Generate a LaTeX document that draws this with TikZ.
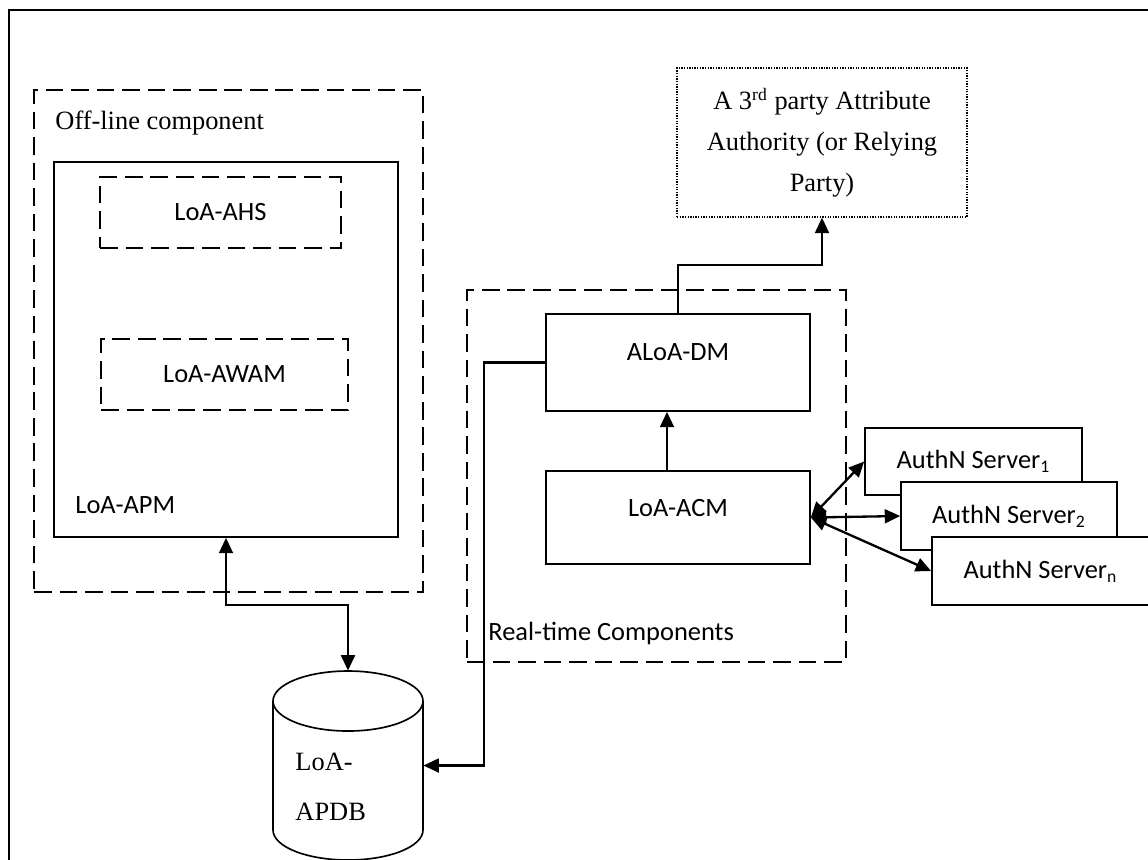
\documentclass[tikz,border=0pt]{standalone}
\usepackage{fontspec}
\setmainfont{Liberation Serif}
\newfontfamily\calibri{Carlito}
\usepackage{tikz}
\usetikzlibrary{arrows.meta,calc}
\newlength{\pxu}
\setlength{\pxu}{0.4545pt}

\begin{document}
\begin{tikzpicture}[x=0.4545pt, y=-0.4545pt,
	sz/.style 2 args={minimum width=#1\pxu, minimum height=#2\pxu, inner sep=0pt},
	sbox/.style={draw, line width=0.75pt, fill=white, font=\calibri\fontsize{12}{14}\selectfont},
	dbox/.style={draw, line width=0.85pt, dash pattern=on 8pt off 3.6pt},
	dotbox/.style={draw, line width=0.6pt, dash pattern=on 0.6pt off 0.6pt},
	cyl/.style={draw, line width=0.75pt, fill=white},
	cal/.style={font=\calibri\fontsize{12}{14}\selectfont, inner sep=0pt},
	tms/.style={font=\fontsize{12}{14}\selectfont, inner sep=0pt},
	conn/.style={line width=1.05pt, >={Triangle[length=7pt,width=6.3pt]}}]
	\useasboundingbox (0,0) rectangle (1148,859);
	\clip (0,0) rectangle (1148,859);
	
	% frame
	\draw[line width=1.3pt] (9,880) -- (9,10) -- (1170,10);
	
	% off-line part
	\node[dbox, sz={389}{502}] (offline) at (228.5,341) {};
	\node[tms, anchor=west] (offlinelbl) at (55,123) {Off-line component};
	\node[sbox, sz={344}{375}] (apm) at (226,349.5) {};
	\node[cal, anchor=west] (apmlbl) at (75,505) {LoA-APM};
	\node[dbox, sz={241}{71}, font=\calibri\fontsize{12}{14}\selectfont] (ahs) at (220.5,212.5) {LoA-AHS};
	\node[dbox, sz={247}{71}, font=\calibri\fontsize{12}{14}\selectfont] (awam) at (224.5,374.5) {LoA-AWAM};
	
	% real-time part
	\node[dbox, sz={379}{372}] (realtime) at (656.5,476) {};
	\node[cal, anchor=west] (realtimelbl) at (488,633) {Real-time Components};
	\node[sbox, sz={264}{97}, label={[cal, yshift=4.5pt]center:ALoA-DM}] (dm) at (678,362.5) {};
	\node[sbox, sz={264}{93}, label={[cal, yshift=4.3pt]center:LoA-ACM}] (acm) at (678,517.5) {};
	
	% third party
	\node[dotbox, sz={290}{149}, align=center, font=\fontsize{12}{18.6}\selectfont] (tp) at (822,142.5)
		{A 3\textsuperscript{rd} party Attribute\\Authority (or Relying\\Party)};
	
	% authentication servers
	\node[sbox, sz={217}{67}] (s1) at (973.5,461.5) {AuthN Server\textsubscript{1}};
	\node[sbox, sz={216}{68}] (s2) at (1009,516) {AuthN Server\textsubscript{2}};
	\node[sbox, sz={217}{68}] (sn) at (1040.5,571) {AuthN Server\textsubscript{n}};
	
	% database
	\node[sz={150}{189}] (db) at (348,765.5) {};
	\draw[cyl] (273,701) -- (273,830) arc[start angle=180, end angle=0, x radius=75, y radius=30] -- (423,701);
	\draw[cyl] (348,701) ellipse [x radius=75, y radius=30];
	\node[anchor=west, align=left, inner sep=0pt, font=\fontsize{12}{22.7}\selectfont] (dbtxt) at (295,787) {LoA-\\APDB};
	
	% connectors
	\coordinate (dbbend) at (348,605);
	\coordinate (dmbend) at (484,765.5);
	\coordinate (tpbend) at (822,265);
	\draw[conn, <->] (apm.south) |- (dbbend) -- (db.north);
	\draw[conn, ->] (dm.west) -| (dmbend) -- (db.east);
	\draw[conn, ->] (dm.north) |- (tpbend) -- (tp.south);
	\draw[conn, ->] ($(acm.north)+(-11,0)$) -- ($(dm.south)+(-11,0)$);
	\draw[conn, <->] (acm.east) -- (s1.west);
	\draw[conn, <->] (acm.east) -- (s2.west);
	\draw[conn, <->] (acm.east) -- (sn.west);
\end{tikzpicture}
\end{document}
